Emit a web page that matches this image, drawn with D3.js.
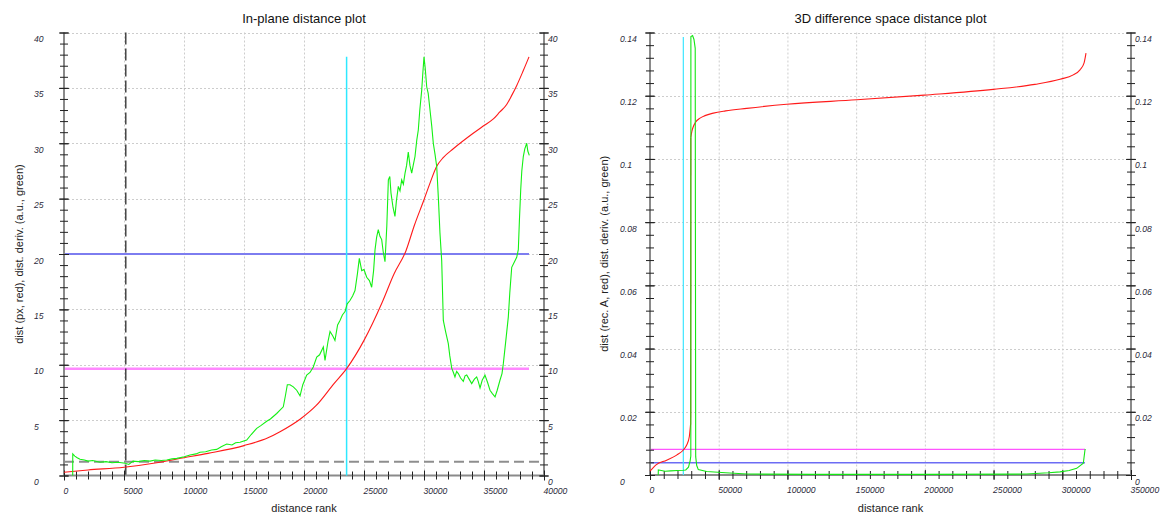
<!DOCTYPE html>
<html>
<head>
<meta charset="utf-8">
<script src="https://cdn.jsdelivr.net/npm/d3@7"></script>
<style>
  body { margin: 0; background: #fff; }
  svg { display: block; font-family: "Liberation Sans", Arial, sans-serif; }
</style>
</head>
<body>
<svg id="chart" width="1160" height="513"></svg>
<script>
// ---------- In-plane panel data ----------
// sorted distance (px) by rank
const planeDist = [
  [0, 0.3], [2000, 0.5], [5000, 0.75], [8000, 1.2], [10000, 1.6], [12000, 2.0],
  [15000, 2.7], [17000, 3.4], [18000, 3.95], [19700, 5.1], [21000, 6.3], [22500, 8.3],
  [23550, 9.65], [25000, 12.2], [26500, 15.6], [27500, 18.2], [28500, 20.3], [29200, 22.6],
  [30000, 24.9], [30500, 26.4], [31050, 27.9], [31600, 28.7], [32440, 29.5], [34100, 30.9],
  [35000, 31.6], [35780, 32.2], [36300, 32.8], [36890, 33.5], [37300, 34.3], [37720, 35.2],
  [38250, 36.5], [38750, 37.8]
];
// derivative of distance (a.u.)
const planeDeriv = [
  [725, 0], [730, 1.95], [900, 1.75], [1100, 1.6], [1333, 1.46], [1700, 1.4], [2000, 1.3],
  [2400, 1.35], [3000, 1.2], [3500, 1.25], [4000, 1.15], [4500, 1.2], [5100, 1.1], [5400, 1.0],
  [5750, 1.3], [6200, 1.25], [6700, 1.35], [7170, 1.3], [7600, 1.4], [8100, 1.35], [8560, 1.4],
  [9000, 1.5], [9400, 1.55], [10025, 1.7], [10500, 1.85], [11000, 1.95], [11330, 2.1],
  [11800, 2.15], [12300, 2.3], [12725, 2.36], [13100, 2.6], [13560, 2.84], [14000, 2.75],
  [14300, 2.95], [14670, 3.0], [15225, 3.2], [15600, 3.7], [16060, 4.26], [16400, 4.5],
  [16890, 4.9], [17200, 5.1], [17725, 5.6], [18000, 5.9], [18275, 6.2], [18450, 7.2],
  [18610, 8.2], [18833, 8.2], [19110, 8.0], [19390, 7.7], [19670, 7.2], [19900, 8.2],
  [20225, 9.07], [20500, 9.3], [20775, 9.8], [21060, 10.7], [21300, 10.9], [21610, 11.6],
  [21750, 10.4], [22000, 12.1], [22170, 13.0], [22400, 12.6], [22580, 12.2], [22800, 13.6],
  [23000, 14.0], [23200, 14.5], [23420, 14.8], [23600, 15.5], [23830, 15.8], [24050, 16.2],
  [24250, 16.7], [24450, 18.2], [24610, 19.6], [24810, 18.5], [25000, 18.6], [25225, 17.9],
  [25450, 17.6], [25640, 17.0], [25800, 18.5], [25920, 20.4], [26050, 21.5], [26190, 22.2],
  [26330, 21.6], [26475, 21.3], [26600, 20.2], [26750, 19.3], [26900, 22.5], [27030, 26.7],
  [27150, 27.0], [27250, 25.5], [27420, 24.2], [27580, 23.4], [27700, 24.8], [27860, 26.1],
  [28000, 25.7], [28140, 26.7], [28280, 26.3], [28420, 27.3], [28550, 28.0], [28690, 29.2],
  [28830, 28.0], [28975, 27.3], [29100, 28.0], [29250, 28.8], [29400, 30.3], [29525, 31.2],
  [29650, 33.0], [29810, 34.8], [29900, 36.3], [30000, 37.8], [30100, 36.8], [30225, 35.1],
  [30350, 34.5], [30500, 33.0], [30650, 31.5], [30775, 30.0], [30920, 29.0], [31060, 27.9],
  [31200, 25.0], [31330, 21.9], [31475, 19.4], [31610, 14.0], [31800, 13.0], [32025, 11.9],
  [32150, 10.8], [32310, 9.7], [32450, 9.3], [32580, 8.9], [32720, 9.4], [32860, 9.2],
  [33050, 8.8], [33275, 8.5], [33420, 9.0], [33560, 9.07], [33760, 8.7], [33975, 8.3],
  [34200, 8.7], [34390, 8.9], [34520, 8.5], [34670, 7.9], [34850, 8.6], [35080, 9.07],
  [35300, 8.4], [35500, 7.7], [35700, 7.4], [35920, 7.1], [36100, 7.7], [36330, 8.6],
  [36500, 9.2], [36610, 10.1], [36800, 12.0], [37025, 14.3], [37150, 16.5], [37310, 18.8],
  [37500, 19.2], [37725, 19.7], [37860, 20.4], [37950, 23.0], [38060, 25.8], [38150, 27.5],
  [38275, 28.8], [38400, 29.5], [38560, 30.0], [38650, 29.3], [38775, 28.9]
];
const planeLastRank = 38750;
const planeUpper = 20.0;      // blue level
const planeLower = 9.65;      // magenta level
const planeFloor = 1.25;      // grey dashed level
const planeMarkRank = 5150;   // black dashed rank
const planeCutRank = 23550;   // cyan rank
const planeCutTop = 37.8;
const planeXTicks = [0, 5000, 10000, 15000, 20000, 25000, 30000, 35000, 40000];
const planeYTicks = [0, 5, 10, 15, 20, 25, 30, 35, 40];

// ---------- 3D difference space panel data ----------
const spaceDistLow = [
  [0, 0.0012], [4400, 0.0032], [12100, 0.0047], [19400, 0.0063], [24250, 0.0079],
  [26700, 0.0095], [28600, 0.0121], [29600, 0.0164]
];
const spaceDistHigh = [
  [29700, 0.1068], [30500, 0.1088], [31500, 0.1102], [33000, 0.1115], [36400, 0.1129],
  [40000, 0.1137], [46100, 0.1145], [55000, 0.1152], [70400, 0.116], [99500, 0.1173],
  [150400, 0.1187], [199600, 0.1202], [249800, 0.122], [280000, 0.1236], [298300, 0.1252],
  [308000, 0.1266], [312900, 0.1282], [315800, 0.1303], [317250, 0.1335]
];
const spaceDeriv = [
  [6000, 0], [6050, 0.0016], [7300, 0.0015], [11000, 0.0012], [15000, 0.0013],
  [20000, 0.0014], [24000, 0.0015], [26000, 0.0016], [28000, 0.0025], [29200, 0.0045],
  [29700, 0.006], [29750, 0.1387], [31000, 0.139], [32000, 0.1378], [32900, 0.135],
  [33250, 0.0058], [34000, 0.003], [35150, 0.0017], [41250, 0.0011], [55000, 0.0007],
  [70400, 0.0003], [120000, 0.0002], [200000, 0.0002], [274000, 0.0003], [290000, 0.0007],
  [298300, 0.001], [305000, 0.0014], [310500, 0.0021], [315300, 0.0037], [316500, 0.0079],
  [316800, 0.0082]
];
const spaceLastRank = 316500;
const spaceUpper = 0.0081;    // magenta level
const spaceLower = 0.0039;    // blue level
const spaceCutRank = 24250;   // cyan rank
const spaceCutTop = 0.1386;
const spaceXTicks = [0, 50000, 100000, 150000, 200000, 250000, 300000, 350000];
const spaceYTicks = [0, 0.02, 0.04, 0.06, 0.08, 0.1, 0.12, 0.14];

const svg = d3.select("#chart");

function drawPanel(o) {
  const g = svg.append("g");
  const x = d3.scaleLinear().domain([o.xTicks[0], o.xTicks[o.xTicks.length - 1]]).range([o.left, o.right]);
  const y = d3.scaleLinear().domain([o.yTicks[0], o.yTicks[o.yTicks.length - 1]]).range([o.bottom, o.top]);

  // dotted grid
  const grid = g.append("g").attr("stroke", "#cdcdcd").attr("stroke-dasharray", "2,2").attr("stroke-width", 1);
  grid.selectAll(".gx").data(o.xTicks.slice(1, -1)).join("line")
    .attr("x1", d => x(d) + 0.5).attr("x2", d => x(d) + 0.5)
    .attr("y1", o.top).attr("y2", o.bottom);
  grid.selectAll(".gy").data(o.yTicks.slice(1)).join("line")
    .attr("x1", o.left).attr("x2", o.right)
    .attr("y1", d => Math.round(y(d)) + 0.5).attr("y2", d => Math.round(y(d)) + 0.5);

  // reference lines below the axes
  o.under(g, x, y);

  // axis lines
  const ax = g.append("g").attr("stroke", "#8a8a8a").attr("stroke-width", 2);
  ax.append("line").attr("x1", o.left).attr("x2", o.right).attr("y1", o.bottom).attr("y2", o.bottom);
  ax.append("line").attr("x1", o.left).attr("x2", o.left).attr("y1", o.top).attr("y2", o.bottom);
  ax.append("line").attr("x1", o.right).attr("x2", o.right).attr("y1", o.top).attr("y2", o.bottom);

  const fmt = o.fmt;
  const styleTicks = sel => {
    sel.select(".domain").remove();
    sel.selectAll(".tick line").attr("stroke", "#222");
  };
  const styleLabels = (sel, tx, ty) => {
    sel.selectAll(".tick text")
      .attr("x", tx).attr("y", ty).attr("dy", null)
      .attr("text-anchor", "start")
      .attr("fill", "#2a2a3a").attr("font-size", 8.6).attr("font-style", "italic")
      .attr("font-family", "'Liberation Sans', Arial, sans-serif");
  };

  // x axis: minor + major crossing ticks
  const xb = g.append("g").attr("transform", `translate(0,${o.bottom})`);
  xb.append("g").call(d3.axisBottom(x).tickValues(o.xMinor).tickSize(4).tickFormat("")).call(styleTicks);
  xb.append("g").call(d3.axisTop(x).tickValues(o.xMinor).tickSize(4).tickFormat("")).call(styleTicks);
  xb.append("g").call(d3.axisTop(x).tickValues(o.xTicks).tickSize(5).tickFormat("")).call(styleTicks);
  xb.append("g").call(d3.axisBottom(x).tickValues(o.xTicks).tickSize(5).tickFormat(d => String(d)))
    .call(styleTicks).call(s => styleLabels(s, -1, 18));

  // left and right y axes
  [o.left, o.right].forEach((px, i) => {
    const yb = g.append("g").attr("transform", `translate(${px},0)`);
    yb.append("g").call(d3.axisLeft(y).tickValues(o.yMinor).tickSize(4).tickFormat("")).call(styleTicks);
    yb.append("g").call(d3.axisRight(y).tickValues(o.yMinor).tickSize(4).tickFormat("")).call(styleTicks);
    yb.append("g").call(d3.axisRight(y).tickValues(o.yTicks).tickSize(5).tickFormat("")).call(styleTicks);
    yb.append("g").call(d3.axisLeft(y).tickValues(o.yTicks).tickSize(5).tickFormat(fmt))
      .call(styleTicks).call(s => styleLabels(s, i === 0 ? -30 : 4, 9));
  });

  // data curves
  o.over(g, x, y);

  // titles
  const cx = (o.left + o.right) / 2;
  g.append("text").attr("x", cx).attr("y", 23).attr("text-anchor", "middle")
    .attr("font-size", 13).attr("fill", "#111").text(o.title);
  g.append("text").attr("x", cx).attr("y", 512).attr("text-anchor", "middle")
    .attr("font-size", 11).attr("fill", "#222").text("distance rank");
  g.append("text").attr("transform", `translate(${o.yLabelX},${(o.top + o.bottom) / 2}) rotate(-90)`)
    .attr("text-anchor", "middle").attr("font-size", 11).attr("fill", "#222").text(o.yLabel);
}

const lineGen = (x, y) => d3.line().x(d => x(d[0])).y(d => y(d[1]));

// In-plane distance plot
drawPanel({
  left: 64, right: 544, top: 32.5, bottom: 475.5,
  xTicks: planeXTicks, yTicks: planeYTicks,
  xMinor: d3.range(0, 40001, 1000), yMinor: d3.range(0, 41, 1),
  fmt: d => String(d),
  title: "In-plane distance plot",
  yLabel: "dist (px, red), dist. deriv. (a.u., green)", yLabelX: 23,
  under: (g, x, y) => {
    g.append("line").attr("x1", x(0)).attr("x2", x(planeLastRank))
      .attr("y1", y(planeUpper)).attr("y2", y(planeUpper))
      .attr("stroke", "#7d7df0").attr("stroke-width", 2);
    g.append("line").attr("x1", x(0)).attr("x2", x(planeLastRank))
      .attr("y1", y(planeLower)).attr("y2", y(planeLower))
      .attr("stroke", "#ff88ff").attr("stroke-width", 2.5);
    g.append("line").attr("x1", x(0)).attr("x2", x(40000))
      .attr("y1", y(planeFloor)).attr("y2", y(planeFloor))
      .attr("stroke", "#8e8e8e").attr("stroke-width", 2).attr("stroke-dasharray", "10,5");
    g.append("line").attr("x1", x(planeMarkRank)).attr("x2", x(planeMarkRank))
      .attr("y1", y(40)).attr("y2", y(0))
      .attr("stroke", "#2a2a2a").attr("stroke-width", 1.3).attr("stroke-dasharray", "12,4");
  },
  over: (g, x, y) => {
    g.append("line").attr("x1", x(planeCutRank)).attr("x2", x(planeCutRank))
      .attr("y1", y(planeCutTop)).attr("y2", y(0))
      .attr("stroke", "#2ee8ff").attr("stroke-width", 1.5);
    g.append("path").datum(planeDist).attr("d", lineGen(x, y).curve(d3.curveMonotoneX))
      .attr("fill", "none").attr("stroke", "#ff1a1a").attr("stroke-width", 1.1);
    g.append("path").datum(planeDeriv).attr("d", lineGen(x, y))
      .attr("fill", "none").attr("stroke", "#14f014").attr("stroke-width", 1.1);
  }
});

// 3D difference space distance plot
drawPanel({
  left: 650, right: 1131, top: 32.5, bottom: 475,
  xTicks: spaceXTicks, yTicks: spaceYTicks,
  xMinor: d3.range(0, 350001, 10000), yMinor: d3.range(0, 36).map(i => i * 0.004),
  fmt: d => String(d),
  title: "3D difference space distance plot",
  yLabel: "dist (rec. A, red), dist. deriv. (a.u., green)", yLabelX: 608,
  under: (g, x, y) => {
    g.append("line").attr("x1", x(0)).attr("x2", x(spaceLastRank))
      .attr("y1", y(spaceUpper)).attr("y2", y(spaceUpper))
      .attr("stroke", "#ff55ff").attr("stroke-width", 1.2);
    g.append("line").attr("x1", x(0)).attr("x2", x(spaceLastRank))
      .attr("y1", y(spaceLower)).attr("y2", y(spaceLower))
      .attr("stroke", "#6c6cf4").attr("stroke-width", 1.5);
  },
  over: (g, x, y) => {
    g.append("line").attr("x1", x(spaceCutRank)).attr("x2", x(spaceCutRank))
      .attr("y1", y(spaceCutTop)).attr("y2", y(0))
      .attr("stroke", "#3ee6ff").attr("stroke-width", 1.2);
    // low branch, the jump, then the smooth high branch
    const spaceDist = spaceDistLow.concat(spaceDistHigh);
    g.append("path").datum(spaceDistLow).attr("d", lineGen(x, y).curve(d3.curveMonotoneX))
      .attr("fill", "none").attr("stroke", "#ff1a1a").attr("stroke-width", 1.1);
    g.append("path").datum(spaceDist.slice(spaceDistLow.length - 1, spaceDistLow.length + 1))
      .attr("d", lineGen(x, y))
      .attr("fill", "none").attr("stroke", "#ff1a1a").attr("stroke-width", 1.1);
    g.append("path").datum(spaceDistHigh).attr("d", lineGen(x, y).curve(d3.curveMonotoneX))
      .attr("fill", "none").attr("stroke", "#ff1a1a").attr("stroke-width", 1.1);
    g.append("path").datum(spaceDeriv).attr("d", lineGen(x, y))
      .attr("fill", "none").attr("stroke", "#14e614").attr("stroke-width", 1.1);
  }
});
</script>
</body>
</html>
